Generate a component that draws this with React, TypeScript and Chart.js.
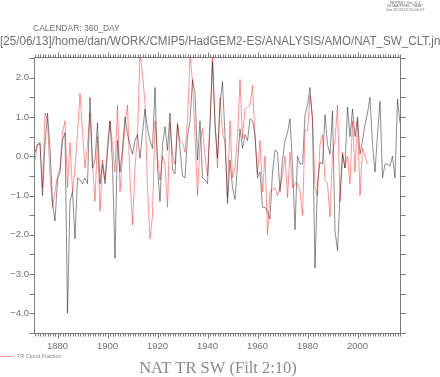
import React, { useEffect, useRef } from "react";
import { Chart, registerables } from "chart.js";

Chart.register(...registerables);

// ---- data (annual, filtered anomalies) ----
const startYear = 1871;

// grey/black series: 1871 .. 2017
const blackValues = [
  // 1871-1908
  0.1, 0.3, 0.35, -1.0, 0.3, 1.1, 0.2, -1.2, -1.65, -0.6,
  -0.4, 0.4, 0.6, -4.0, -1.15, -0.9, -2.1, -0.55, -0.6, -0.7,
  -0.55, -0.7, 1.5, -0.3, -0.1, 0.85, -0.7, -0.2, -0.7, 0.1,
  0.9, -0.2, -2.6, 0.4, -0.4, 0.2, 1.0, 0.55,
  // 1909-1945
  0.3, 0.05, 0.4, 0.55, -0.05, 0.6, 1.2, 0.7, 0.4, 0.2,
  1.75, -0.3, -1.15, 0.3, 0.75, 0.15, 1.1, -0.35, -0.45, 0.8,
  0.2, -0.5, -0.55, 0.5, 0.9, 1.95, 1.6, -0.1, 0.9, -0.55,
  -0.6, -0.7, 0.8, 2.4, 0.8, -0.05, 1.3,
  // 1946-1983
  1.9, 0.5, -1.2, -0.1, -0.8, -1.1, -0.2, 0.7, 0.2, 0.55,
  0.4, 0.95, 0.9, 0.55, -0.55, -0.4, -1.3, -1.3, -1.4, -1.6,
  -0.4, 0.15, 0.1, -0.9, -0.1, 0.4, 0.6, 0.95, -0.2, -1.87,
  0.0, -0.2, -0.2, 1.05, 1.3, 1.75, 0.9, -2.85,
  // 1984-2017
  -0.65, -0.15, -0.2, 1.05, 0.3, 0.05, 1.15, -1.9, -2.4, -1.0,
  0.05, -0.3, 1.25, 0.5, 1.2, 0.5, 1.0, 0.05, 0.4, 0.8,
  1.1, 1.5, 0.3, -0.4, 0.55, 1.4, -0.55, -0.2, -0.2, -0.25,
  0.0, -0.55, 1.45, 0.85,
];

// red series (TR Cloud Fraction): 1871 .. 2004
const redValues = [
  // 1871-1908
  -0.1, 0.3, 0.3, -0.8, 1.1, 0.9, -0.5, -1.3, -0.9, -0.5,
  -0.3, 0.6, 0.9, -0.8, 0.35, -0.9, -0.3, 0.6, 1.6, 0.6,
  -0.3, 0.3, 1.1, -0.2, -1.15, 0.5, -1.4, -0.1, -0.6, 0.3,
  0.9, 0.3, -0.4, 1.3, -0.9, 0.0, 0.8, 1.3,
  // 1909-1945
  -0.6, -1.75, -0.3, 0.55, 2.6, 2.1, 1.35, -0.8, -2.1, -1.5,
  0.9, 0.0, -0.6, 0.0, -0.2, -1.3, 0.85, 0.05, -0.2, 0.85,
  0.4, 0.35, 0.1, 0.9, 2.55, 1.9, 0.5, -1.0, 0.3, 0.7,
  0.0, -0.5, 0.9, 2.55, 0.9, -0.3, 1.5,
  // 1946-1983
  0.6, 0.35, -1.05, 0.9, -0.55, -0.3, 0.5, 1.95, 0.45, 1.2,
  1.25, 1.3, 1.8, 0.5, -0.45, 0.4, -0.9, 0.0, -2.0, -0.9,
  -0.85, -0.8, -1.0, -0.8, -0.5, 0.0, -1.05, 0.1, -0.8, -0.7,
  -0.7, -0.9, -1.5, 0.65, 0.65, 1.55, 1.0, -0.8,
  // 1984-2004
  -1.0, 0.3, 0.55, -0.6, -0.7, -1.55, 0.1, 0.4, 1.3, -1.15,
  0.1, -0.3, 0.0, -0.7, 0.9, -0.4, 0.9, -1.0, 0.2, 0.0,
  -0.2,
];

const xMin = 1871;
const xMax = 2017;
const yMin = -4.5;
const yMax = 2.5;
const xTickValues = [1880, 1900, 1920, 1940, 1960, 1980, 2000];
const yTickValues = [-4, -3, -2, -1, 0, 1, 2];

const blackLabel = "NAT TR SW";
const redLabel = "TR Cloud Fraction";
const titleText = "NAT TR SW (Filt 2:10)";
const calendarText = "CALENDAR: 360_DAY";
const pathText =
  "[25/06/13]/home/dan/WORK/CMIP5/HadGEM2-ES/ANALYSIS/AMO/NAT_SW_CLT.jnl";
const stampLines = ["FERRET Ver. 6.1", "NOAA/PMEL TMAP", "Jun 25 2013 15:06:07"];

const AXIS_COLOR = "#7a7a7a";
const TEXT_COLOR = "#707070";
const BLACK_COLOR = "rgba(0,0,0,0.45)";
const RED_COLOR = "rgba(255,0,0,0.42)";

const ferretPlugin = {
  id: "ferretDecor",
  afterDraw(chart: any) {
    const { ctx, chartArea: a, scales } = chart;
    const xs = scales.x;
    const ys = scales.y;
    ctx.save();
    ctx.strokeStyle = AXIS_COLOR;
    ctx.lineWidth = 1;
    const L = Math.round(a.left) - 0.5;
    const R = Math.round(a.right) + 0.5;
    const T = Math.round(a.top) - 0.5;
    const B = Math.round(a.bottom) + 0.5;
    ctx.beginPath();
    ctx.rect(L, T, R - L, B - T);
    ctx.stroke();

    // x ticks every year, longer at labelled years
    ctx.beginPath();
    for (let yr = Math.ceil(xs.min); yr <= xs.max; yr++) {
      const px = Math.round(xs.getPixelForValue(yr)) + 0.5;
      const len = yr % 20 === 0 ? 5 : 3;
      ctx.moveTo(px, T);
      ctx.lineTo(px, T - len);
      ctx.moveTo(px, B);
      ctx.lineTo(px, B + len);
    }
    // y ticks every 0.5
    for (let k = 0; yMin + k * 0.5 <= yMax + 1e-9; k++) {
      const v = yMin + k * 0.5;
      const py = Math.round(ys.getPixelForValue(v)) + 0.5;
      ctx.moveTo(L, py);
      ctx.lineTo(L - 5, py);
      ctx.moveTo(R, py);
      ctx.lineTo(R + 5, py);
    }
    ctx.stroke();

    // header texts
    ctx.fillStyle = TEXT_COLOR;
    ctx.textBaseline = "middle";
    ctx.textAlign = "center";
    ctx.font = "4px 'Liberation Sans'";
    stampLines.forEach((s, i) => ctx.fillText(s, 405, 3 + i * 3.2));

    ctx.textAlign = "left";
    ctx.font = "8.5px 'Liberation Sans'";
    ctx.fillText(calendarText, 33, 28.5);

    ctx.font = "12.5px 'Liberation Sans'";
    const w = ctx.measureText(pathText).width;
    const sx = 443 / w;
    ctx.save();
    ctx.translate(0, 41.5);
    ctx.scale(sx, 1);
    ctx.fillText(pathText, 0, 0);
    ctx.restore();

    // legend
    ctx.strokeStyle = RED_COLOR;
    ctx.beginPath();
    ctx.moveTo(0, 356.5);
    ctx.lineTo(13, 356.5);
    ctx.stroke();
    ctx.fillStyle = "#888";
    ctx.font = "5.5px 'Liberation Sans'";
    ctx.fillText(redLabel, 17, 356.5);

    // title
    ctx.fillStyle = "#8a8a8a";
    ctx.textAlign = "center";
    ctx.font = "16.5px 'Liberation Serif'";
    ctx.fillText(titleText, 218, 369);
    ctx.restore();
  },
};

export default function App() {
  const ref = useRef<HTMLCanvasElement | null>(null);

  useEffect(() => {
    if (!ref.current) return;
    const blackPts = blackValues.map((v, i) => ({ x: startYear + i, y: v }));
    const redPts = redValues.map((v, i) => ({ x: startYear + i, y: v }));
    const chart = new Chart(ref.current, {
      type: "line",
      data: {
        datasets: [
          {
            label: blackLabel,
            data: blackPts,
            borderColor: BLACK_COLOR,
            borderWidth: 1,
            pointRadius: 0,
            tension: 0,
          },
          {
            label: redLabel,
            data: redPts,
            borderColor: RED_COLOR,
            borderWidth: 1,
            pointRadius: 0,
            tension: 0,
          },
        ],
      },
      options: {
        responsive: false,
        animation: false,
        events: [],
        layout: { padding: { left: 0, right: 40, top: 58, bottom: 24 } },
        plugins: {
          legend: { display: false },
          tooltip: { enabled: false },
          title: { display: false },
        },
        scales: {
          x: {
            type: "linear",
            min: xMin,
            max: xMax,
            grid: { display: false, drawTicks: false },
            border: { display: false },
            afterBuildTicks: (scale: any) => {
              scale.ticks = xTickValues.map((v) => ({ value: v }));
            },
            afterFit: (scale: any) => {
              scale.height = 20;
            },
            ticks: {
              autoSkip: false,
              maxRotation: 0,
              padding: 8,
              color: TEXT_COLOR,
              font: { family: "'Liberation Sans'", size: 9.5 },
              callback: (v: any) => String(v),
            },
          },
          y: {
            type: "linear",
            min: yMin,
            max: yMax,
            grid: { display: false, drawTicks: false },
            border: { display: false },
            afterBuildTicks: (scale: any) => {
              scale.ticks = yTickValues.map((v) => ({ value: v }));
            },
            afterFit: (scale: any) => {
              scale.width = 35;
            },
            ticks: {
              padding: 6,
              color: TEXT_COLOR,
              font: { family: "'Liberation Sans'", size: 9.5 },
              callback: (v: any) => Number(v).toFixed(1).replace("-", "\u2212"),
            },
          },
        },
      },
      plugins: [ferretPlugin],
    });
    return () => chart.destroy();
  }, []);

  return (
    <div style={{ position: "absolute", left: 0, top: 0, width: 440, height: 377, background: "#fff" }}>
      <canvas ref={ref} width={440} height={377} style={{ display: "block" }} />
    </div>
  );
}
